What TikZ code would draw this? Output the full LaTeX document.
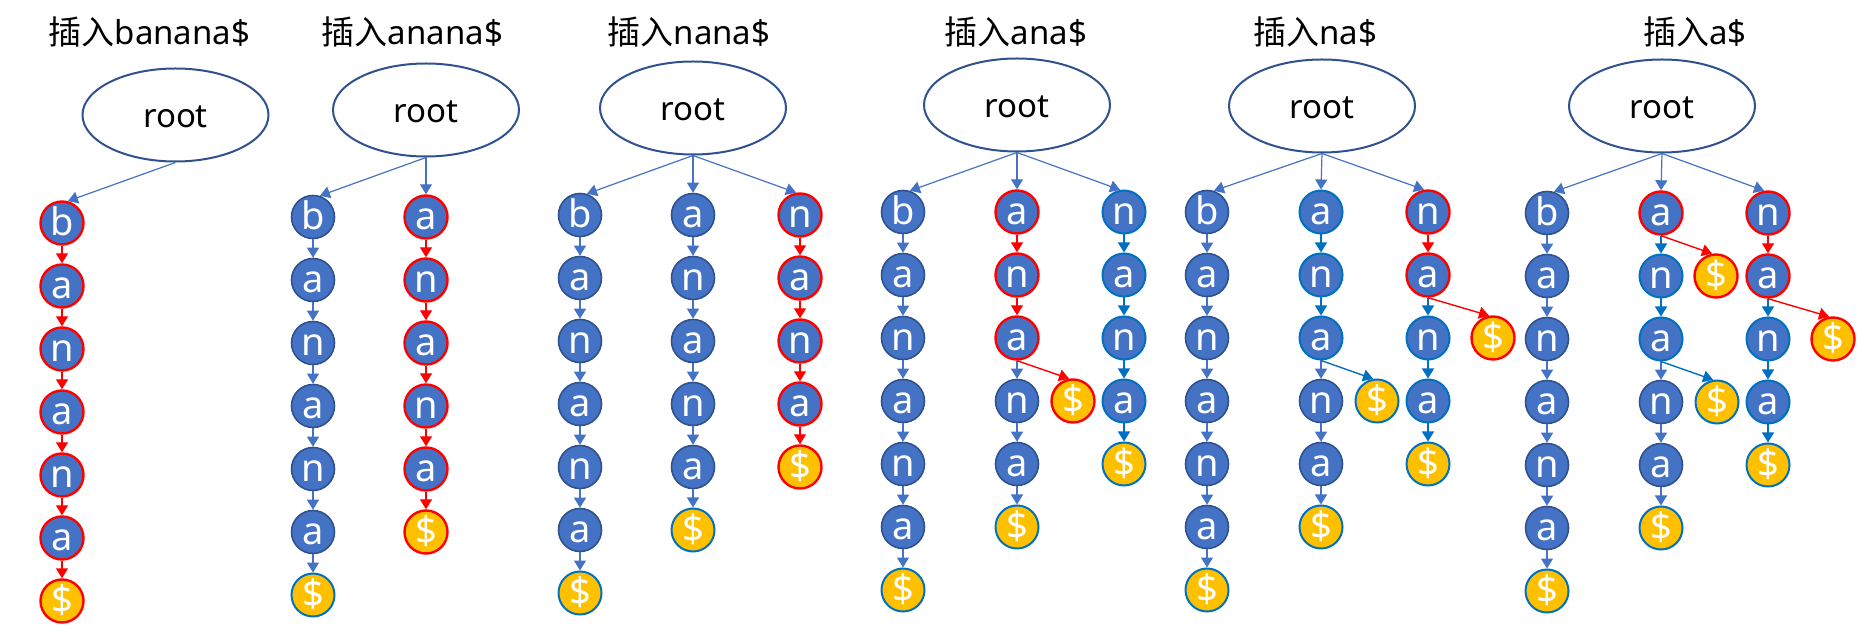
\documentclass[tikz,border=0pt]{standalone}
\usepackage{fontspec}
\setmainfont{Noto Sans}
\newfontfamily\cjk{Noto Sans CJK SC}
\usetikzlibrary{arrows.meta,shapes.geometric}
\definecolor{nodefill}{HTML}{4472C4}
\definecolor{darkb}{HTML}{2F528F}
\definecolor{midb}{HTML}{0070C0}
\definecolor{redc}{HTML}{FF0000}
\definecolor{gold}{HTML}{FFC000}
\definecolor{edgec}{HTML}{4472C4}
\newcommand\txtfont{\fontsize{16.5pt}{20pt}\selectfont}
\newcommand\letfont{\fontsize{19pt}{22pt}\selectfont}
\tikzset{
  base/.style={circle, minimum size=21.5pt, inner sep=0pt, text=white, font=\letfont, text height=12.5pt, text depth=0pt},
  nd/.style={base, fill=nodefill, draw=darkb, line width=0.8pt},
  nr/.style={base, fill=nodefill, draw=redc, line width=1.2pt},
  nb/.style={base, fill=nodefill, draw=midb, line width=1pt},
  db/.style={base, fill=gold, draw=midb, line width=1pt},
  dr/.style={base, fill=gold, draw=redc, line width=1.2pt},
  rootnode/.style={ellipse, minimum width=93pt, minimum height=46.5pt, inner sep=0pt, draw=darkb, line width=1pt, fill=white, font=\txtfont, text height=12.5pt, text depth=0pt},
  title/.style={anchor=base, inner sep=0pt, font=\txtfont},
  e/.style={draw=edgec, line width=0.6pt, -{Triangle[length=5pt,width=6pt]}},
  er/.style={draw=redc, line width=0.7pt, -{Triangle[length=5pt,width=6pt]}},
  eb/.style={draw=midb, line width=0.7pt, -{Triangle[length=5pt,width=6pt]}},
}
% #1 prefix, #2 x, #3 y0, #4 list letter/nodestyle/edgestyle
\newcommand\mkcol[4]{%
  \foreach \t/\s/\ee [count=\i from 0] in {#4} {
    \node[\s] (#1-\i) at (#2, #3+\i*63) {\t};
    \ifnum\i>0
      \pgfmathtruncatemacro\j{\i-1}
      \draw[\ee] (#1-\j) -- (#1-\i);
    \fi
  }%
}
\begin{document}
\begin{tikzpicture}[x=0.5pt, y=-0.5pt]
\useasboundingbox (0,0) rectangle (1867,635);

% ---------- Panel 1 ----------
\node[title] (t1) at (149.5,45) {{\cjk 插入}banana\$};
\node[rootnode] (r1) at (175.5,115) {root};
\mkcol{p1a}{62}{223}{b/nr/e, a/nr/er, n/nr/er, a/nr/er, n/nr/er, a/nr/er, \$/dr/er}
\draw[e] (r1.south) -- (p1a-0.75);

% ---------- Panel 2 ----------
\node[title] (t2) at (412.5,45) {{\cjk 插入}anana\$};
\node[rootnode] (r2) at (426,110) {root};
\mkcol{p2a}{313}{217}{b/nd/e, a/nd/e, n/nd/e, a/nd/e, n/nd/e, a/nd/e, \$/db/e}
\mkcol{p2b}{426}{217}{a/nr/e, n/nr/er, a/nr/er, n/nr/er, a/nr/er, \$/dr/er}
\draw[e] (r2.south) -- (p2a-0.72);
\draw[e] (r2.south) -- (p2b-0.north);

% ---------- Panel 3 ----------
\node[title] (t3) at (689,45) {{\cjk 插入}nana\$};
\node[rootnode] (r3) at (693,108) {root};
\mkcol{p3a}{580}{215}{b/nd/e, a/nd/e, n/nd/e, a/nd/e, n/nd/e, a/nd/e, \$/db/e}
\mkcol{p3b}{693}{215}{a/nd/e, n/nd/e, a/nd/e, n/nd/e, a/nd/e, \$/db/e}
\mkcol{p3c}{800}{215}{n/nr/e, a/nr/er, n/nr/er, a/nr/er, \$/dr/er}
\draw[e] (r3.south) -- (p3a-0.72);
\draw[e] (r3.south) -- (p3b-0.north);
\draw[e] (r3.south) -- (p3c-0.100);

% ---------- Panel 4 ----------
\node[title] (t4) at (1016,45) {{\cjk 插入}ana\$};
\node[rootnode] (r4) at (1017,105) {root};
\mkcol{p4a}{903}{212}{b/nd/e, a/nd/e, n/nd/e, a/nd/e, n/nd/e, a/nd/e, \$/db/e}
\mkcol{p4b}{1017}{212}{a/nr/e, n/nr/er, a/nr/er, n/nd/e, a/nd/e, \$/db/e}
\mkcol{p4c}{1124}{212}{n/nb/e, a/nb/eb, n/nb/eb, a/nb/eb, \$/db/eb}
\node[dr] (p4x) at (1073,401) {\$};
\draw[er] (p4b-2.south) -- (p4x.100);
\draw[e] (r4.south) -- (p4a-0.72);
\draw[e] (r4.south) -- (p4b-0.north);
\draw[e] (r4.south) -- (p4c-0.100);

% ---------- Panel 5 ----------
\node[title] (t5) at (1315,45) {{\cjk 插入}na\$};
\node[rootnode] (r5) at (1322,106) {root};
\mkcol{p5a}{1207}{212}{b/nd/e, a/nd/e, n/nd/e, a/nd/e, n/nd/e, a/nd/e, \$/db/e}
\mkcol{p5b}{1321}{212}{a/nb/e, n/nb/eb, a/nb/eb, n/nd/e, a/nd/e, \$/db/e}
\mkcol{p5c}{1428}{212}{n/nr/e, a/nr/er, n/nb/eb, a/nb/eb, \$/db/eb}
\node[db] (p5x) at (1377,401) {\$};
\node[dr] (p5y) at (1493,338) {\$};
\draw[eb] (p5b-2.south) -- (p5x.100);
\draw[er] (p5c-1.south) -- (p5y.100);
\draw[e] (r5.south) -- (p5a-0.72);
\draw[e] (r5.south) -- (p5b-0.north);
\draw[e] (r5.south) -- (p5c-0.100);

% ---------- Panel 6 ----------
\node[title] (t6) at (1695,45) {{\cjk 插入}a\$};
\node[rootnode] (r6) at (1662,106) {root};
\mkcol{p6a}{1547}{213}{b/nd/e, a/nd/e, n/nd/e, a/nd/e, n/nd/e, a/nd/e, \$/db/e}
\mkcol{p6b}{1661}{213}{a/nr/e, n/nb/eb, a/nb/eb, n/nd/e, a/nd/e, \$/db/e}
\mkcol{p6c}{1768}{213}{n/nr/e, a/nr/er, n/nb/eb, a/nb/eb, \$/db/eb}
\node[dr] (p6x) at (1716,276) {\$};
\node[db] (p6y) at (1717,402) {\$};
\node[dr] (p6z) at (1833,339) {\$};
\draw[er] (p6b-0.south) -- (p6x.100);
\draw[eb] (p6b-2.south) -- (p6y.100);
\draw[er] (p6c-1.south) -- (p6z.100);
\draw[e] (r6.south) -- (p6a-0.72);
\draw[e] (r6.south) -- (p6b-0.north);
\draw[e] (r6.south) -- (p6c-0.100);
\end{tikzpicture}
\end{document}
